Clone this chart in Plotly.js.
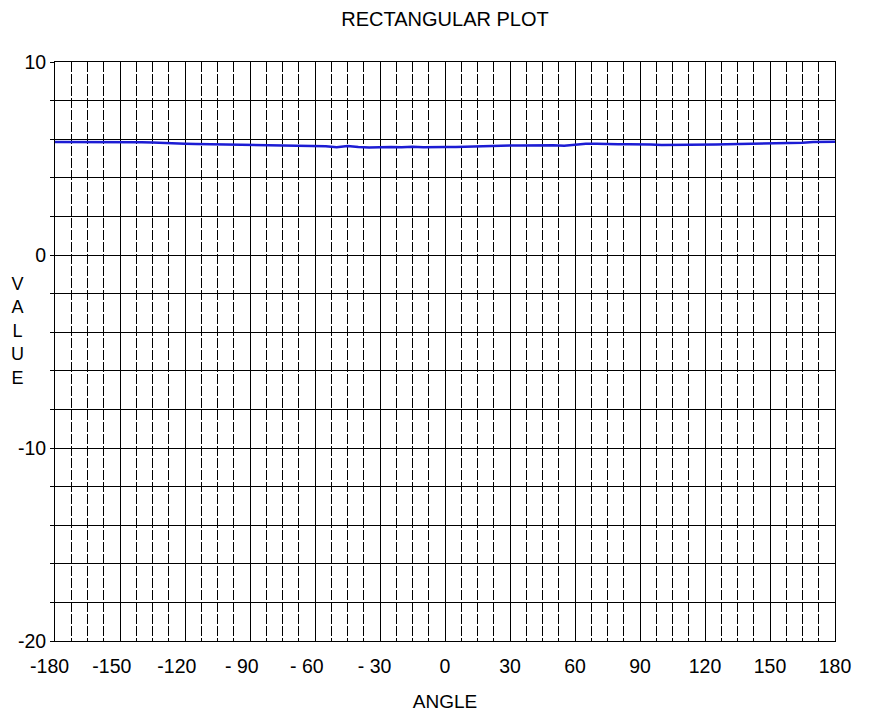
<!DOCTYPE html>
<html>
<head>
<meta charset="utf-8">
<script src="https://cdn.plot.ly/plotly-3.0.1.min.js"></script>
<style>html,body{margin:0;padding:0;background:#fff;}#chart{width:878px;height:721px;}</style>
</head>
<body>
<div id="chart"></div>
<script>
var angles = [-180,-175,-170,-165,-160,-155,-150,-145,-140,-135,-130,-125,-120,-115,-110,-105,-100,-95,-90,-85,-80,-75,-70,-65,-60,-55,-50,-45,-40,-35,-30,-25,-20,-15,-10,-5,0,5,10,15,20,25,30,35,40,45,50,55,60,65,70,75,80,85,90,95,100,105,110,115,120,125,130,135,140,145,150,155,160,165,170,175,180];
var values = [5.86,5.86,5.86,5.87,5.86,5.86,5.86,5.85,5.84,5.83,5.80,5.80,5.77,5.75,5.74,5.72,5.73,5.71,5.70,5.70,5.68,5.69,5.67,5.66,5.65,5.64,5.58,5.65,5.60,5.57,5.58,5.60,5.58,5.61,5.58,5.60,5.60,5.60,5.62,5.63,5.63,5.66,5.67,5.68,5.69,5.70,5.69,5.66,5.72,5.76,5.76,5.74,5.74,5.74,5.74,5.73,5.70,5.70,5.70,5.71,5.72,5.73,5.74,5.75,5.76,5.76,5.78,5.79,5.80,5.82,5.85,5.86,5.87];
var xTickVals = [-180,-150,-120,-90,-60,-30,0,30,60,90,120,150,180];
var xTickText = ["-180\u00a0\u00a0","-150\u00a0\u00a0\u00a0","-120\u00a0\u00a0\u00a0","- 90\u00a0\u00a0\u00a0","- 60\u00a0\u00a0\u00a0","- 30\u00a0\u00a0","0","30","60","90","120","150","180"];
var yTickVals = [-20,-18,-16,-14,-12,-10,-8,-6,-4,-2,0,2,4,6,8,10];
var yTickText = ["-20","","","","","-10","","","","","0","","","","","10"];

var font = "Liberation Sans, Arial, sans-serif";
var trace = {
  x: angles, y: values, type: "scatter", mode: "lines",
  line: {color: "#1c1cd4", width: 2.5},
  hoverinfo: "x+y"
};
var layout = {
  width: 878, height: 721,
  margin: {l: 55, r: 43, t: 62, b: 80},
  paper_bgcolor: "#ffffff", plot_bgcolor: "#ffffff",
  showlegend: false,
  font: {family: font, color: "#000000", size: 19},
  title: {text: "RECTANGULAR PLOT", font: {family: font, size: 20, color: "#000"}, x: 0.5, xref: "paper", xanchor: "center", y: 1 - 19/721, yref: "container", yanchor: "middle"},
  xaxis: {
    range: [-180, 180], tickmode: "array", tickvals: xTickVals, ticktext: xTickText,
    showgrid: true, gridcolor: "#000000", gridwidth: 1,
    showline: true, linecolor: "#000000", linewidth: 1, mirror: true,
    ticks: "", zeroline: false, ticklabelstandoff: 8,
    tickfont: {family: font, size: 19.5, color: "#000"},
    minor: {dtick: 7.5, tick0: -180, showgrid: true, gridcolor: "#000000", gridwidth: 1, griddash: "10px,2px", ticks: ""},
    title: {text: "ANGLE", font: {family: font, size: 19, color: "#000"}, standoff: 18}
  },
  yaxis: {
    range: [-20, 10], tickmode: "array", tickvals: yTickVals, ticktext: yTickText,
    showgrid: true, gridcolor: "#000000", gridwidth: 1,
    showline: true, linecolor: "#000000", linewidth: 1, mirror: true,
    ticks: "outside", ticklen: 4, tickcolor: "#000", zeroline: false,
    tickfont: {family: font, size: 19.5, color: "#000"}
  },
  annotations: [{
    text: "V<br>A<br>L<br>U<br>E", xref: "paper", yref: "paper",
    x: (17 - 55) / 780, y: (641 - 331) / 579, xanchor: "center", yanchor: "middle",
    showarrow: false, font: {family: font, size: 18, color: "#000"}, align: "center"
  }]
};
Plotly.newPlot("chart", [trace], layout, {displayModeBar: false, staticPlot: true});
</script>
</body>
</html>
